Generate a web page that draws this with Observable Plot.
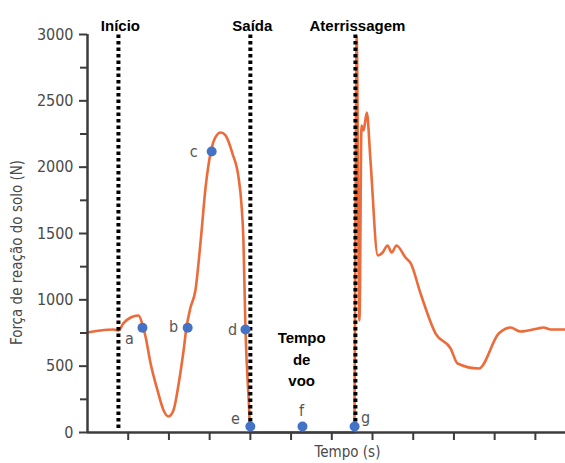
<!DOCTYPE html>
<html>
<head>
<meta charset="utf-8">
<script src="https://cdn.jsdelivr.net/npm/d3@7"></script>
<script src="https://cdn.jsdelivr.net/npm/@observablehq/plot@0.6"></script>
<style>
  html, body { margin: 0; padding: 0; background: #fff; }
  #chart svg { display: block; }
</style>
</head>
<body>
<div id="chart"></div>
<script>
// Force curve (time in tick units, force in N)
const curveT = [0, 0.32, 0.64, 0.76, 0.88, 1.06, 1.25, 1.35, 1.43, 1.55, 1.72, 1.87, 1.99, 2.11, 2.24, 2.36, 2.43, 2.53, 2.65, 2.78, 2.90, 3.02, 3.14, 3.27, 3.39, 3.56, 3.71, 3.78, 3.83, 3.88, 3.96, 4.00, 4.03, 6.55, 6.61, 6.68, 6.73, 6.78, 6.86, 6.95, 7.13, 7.25, 7.37, 7.47, 7.59, 7.81, 7.94, 8.18, 8.55, 8.92, 9.09, 9.61, 10.10, 10.39, 10.64, 11.06, 11.20, 11.38, 11.74];
const curveForce = [754, 769, 776, 769, 822, 867, 882, 815, 716, 520, 317, 166, 121, 166, 369, 618, 791, 942, 1070, 1447, 1847, 2103, 2224, 2261, 2239, 2103, 1922, 1726, 1447, 776, 241, 15, 0, 0, 2980, 845, 2314, 2276, 2412, 2050, 1334, 1357, 1410, 1357, 1410, 1319, 1274, 1048, 746, 633, 520, 482, 746, 791, 761, 784, 791, 776, 776];

// Events (dotted lines)
const eventNames = ["Início", "Saída", "Aterrissagem"];
const eventT = [0.76, 4.0, 6.58];

// Marked points
const pointLetters = ["a", "b", "c", "d", "e", "f", "g"];
const pointT = [1.35, 2.46, 3.05, 3.88, 4.0, 5.28, 6.56];
const pointForce = [790, 790, 2118, 776, 45, 45, 45];

// Flight-time annotation
const flightText = ["Tempo\nde\nvoo"];
const flightT = [5.26];
const flightForce = [565];

// Axes
const yTickLabels = [0, 500, 1000, 1500, 2000, 2500, 3000];
const yMinorTicks = [250, 750, 1250, 1750, 2250, 2750];
const xTicks = [1, 2, 3, 4, 5, 6, 7, 8, 9, 10, 11];
const yLabel = "Força de reação do solo (N)";
const xLabel = "Tempo (s)";

const curve = curveT.map((t, i) => ({t, f: curveForce[i]}));
const events = eventNames.map((name, i) => ({name, t: eventT[i]}));
const points = pointLetters.map((l, i) => ({l, t: pointT[i], f: pointForce[i]}));
const flight = flightText.map((s, i) => ({s, t: flightT[i], f: flightForce[i]}));

const letterOffsets = {a: [-13, 11], b: [-14, -1], c: [-18, 0], d: [-13, 0], e: [-15, -8], f: [-1, -16], g: [11, -9]};

const narrow = "'Liberation Sans Narrow', 'DejaVu Sans Condensed', sans-serif";
const bold = "'Liberation Sans', Arial, sans-serif";
const orange = "#ec6b3a";
const axisColor = "#3c3c3c";
const textGray = "#4a4a4a";

const letterMarks = points.map(p => Plot.text([p], {
  x: "t", y: "f", text: "l",
  dx: letterOffsets[p.l][0], dy: letterOffsets[p.l][1],
  fill: "#555", fontSize: 16, fontFamily: narrow, textAnchor: "middle", lineAnchor: "middle"
}));

const chart = Plot.plot({
  width: 565,
  height: 463,
  marginLeft: 87,
  marginRight: 0,
  marginTop: 34,
  marginBottom: 31,
  x: {domain: [0, 11.74]},
  y: {domain: [0, 3000]},
  style: {fontFamily: narrow, background: "#fff"},
  marks: [
    Plot.line(curve, {x: "t", y: "f", stroke: orange, strokeWidth: 2.6, curve: "monotone-x"}),
    Plot.ruleX(events, {x: "t", y1: 30, y2: 3000, stroke: "#000", strokeWidth: 4, strokeDasharray: "3.6,2.9"}),
    Plot.ruleY([0], {stroke: axisColor, strokeWidth: 2.5}),
    Plot.ruleX([0], {y1: 0, y2: 3000, stroke: axisColor, strokeWidth: 2.5}),
    Plot.axisY({ticks: yTickLabels, tickFormat: d3.format("d"), tickSize: 8, tickPadding: 6, stroke: axisColor, strokeWidth: 2, fill: textGray, fontSize: 16, label: null}),
    Plot.axisY({ticks: yMinorTicks, tickSize: 7, text: null, stroke: axisColor, strokeWidth: 2, label: null}),
    Plot.axisX({ticks: xTicks, tickSize: 8, text: null, stroke: axisColor, strokeWidth: 2, label: null}),
    Plot.text(events, {x: "t", text: "name", frameAnchor: "top", dy: -8, fontWeight: "bold", fontSize: 15, fontFamily: bold, fill: "#000", lineAnchor: "middle", dx: 2}),
    Plot.text(flight, {x: "t", y: "f", text: "s", fontWeight: "bold", fontSize: 15, fontFamily: bold, fill: "#000", lineHeight: 1.45, lineAnchor: "middle"}),
    Plot.dot(points, {x: "t", y: "f", r: 5, fill: "#4472c4", stroke: null}),
    ...letterMarks,
    Plot.text([yLabel], {frameAnchor: "left", textAnchor: "middle", rotate: -90, dx: -70, dy: 19, fill: textGray, fontSize: 15, fontFamily: narrow, lineAnchor: "middle"}),
    Plot.text([xLabel], {frameAnchor: "bottom", textAnchor: "middle", dx: 21, dy: 20, fill: textGray, fontSize: 15, fontFamily: narrow, lineAnchor: "middle"})
  ]
});
document.getElementById("chart").append(chart);
</script>
</body>
</html>
